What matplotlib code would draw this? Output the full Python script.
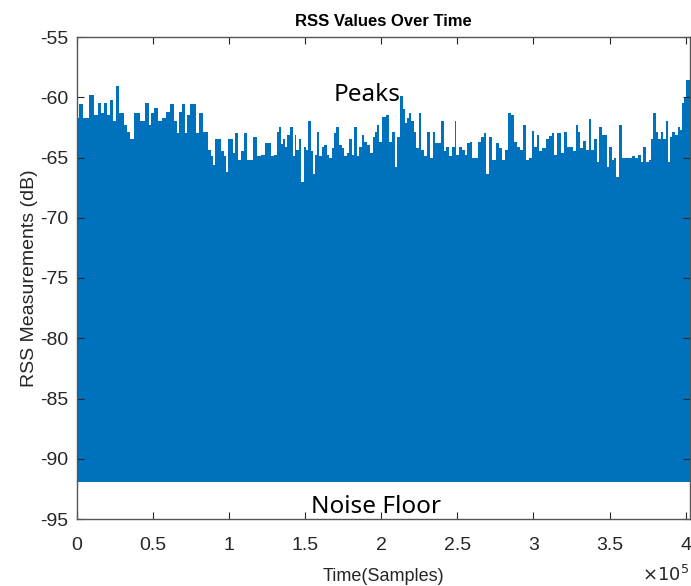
import matplotlib
matplotlib.use('Agg')
import matplotlib.pyplot as plt
from matplotlib.ticker import FixedLocator, FuncFormatter

plt.rcParams['axes.unicode_minus'] = False

# upper envelope of the RSS trace
# time in samples, rss in dB, same row layout in both lists
time_samples = [
    0, 2600, 5900, 10500, 12400, 15100, 17000, 19000, 20900, 22900,
    24200, 26800, 28800, 30100, 32100, 34000, 35400, 37300, 38000, 40600,
    43200, 46500, 48400, 49800, 51700, 55000, 57000, 60200, 62800, 64800,
    66800,
    68100, 70700, 72000, 73300, 75900, 77900, 79200, 81800, 83800, 85100,
    87100, 89000, 90300, 91700, 93600, 95600, 97500, 98900, 100200, 102100,
    103400, 104800, 106700, 108700, 110600, 112600, 114600, 117200, 119800, 122400,
    124400, 126400, 128300, 130300, 132200,
    133600, 134200, 136200, 137500, 139400, 141400, 142700, 144000, 144700, 146700,
    148600, 149900, 151200, 153200, 154500, 155800, 157100, 158400, 160400, 161700,
    163700, 165000, 166900, 168300, 169600, 171500, 173500, 174800, 176800, 178100,
    180000, 181300, 183300, 184600, 186600, 187900, 189900, 191200, 193800, 195100,
    196400, 197700, 199700,
    201600, 204300, 205600, 208200, 209500, 210800, 213400, 214700, 216100, 217400,
    218700, 220600, 221900, 223900, 225200, 227200, 229100, 231100, 233100, 234400,
    236300, 238300, 240300, 241600, 243500, 245500, 247500, 248800, 250100, 252100,
    254000, 256000, 257300, 259300, 260600, 263200, 264500, 266500,
    268400, 269700, 271700, 274300, 276300, 278200, 280900, 282200, 284100, 286100,
    288100, 290000, 292000, 294000, 295900, 297900, 299900, 301200, 303100, 304400,
    307100, 309000, 311000, 312900, 314300, 316900, 318800, 320800, 322800, 324700,
    327400, 328700, 330000, 331300, 333200,
    335200, 337200, 338500, 341100, 342400, 343700, 345700, 347600, 349000, 350900,
    352200, 354200, 354800, 357500, 358800, 361400, 364000, 366000, 367900, 369900,
    371200, 373200, 374500, 377100, 377700, 379700, 381000, 383000, 384300, 386300,
    387600, 389500, 390200, 392200, 394100, 395400, 396800, 398100, 400000, 400600,
    402500,
]
rss_peak = [
    -61.7, -60.6, -61.7, -59.8, -61.5, -60.5, -61.3, -60.5, -61.5, -60.2,
    -62.0, -59.1, -61.3, -61.3, -62.3, -62.9, -63.5, -63.5, -61.3, -61.3,
    -62.0, -60.5, -62.3, -61.3, -60.9, -62.0, -61.7, -61.2, -60.6, -62.0,
    -63.0,
    -61.2, -60.6, -63.0, -61.5, -60.6, -60.6, -63.0, -61.3, -62.9, -62.9,
    -64.4, -64.9, -65.6, -63.5, -63.5, -64.5, -64.9, -66.2, -63.5, -63.5,
    -64.6, -63.0, -65.2, -64.5, -63.0, -65.2, -65.2, -63.3, -64.9, -64.8,
    -63.8, -63.8, -64.9, -64.8, -62.9,
    -62.5, -63.9, -63.5, -64.1, -63.1, -62.5, -64.9, -63.1, -64.4, -63.5,
    -67.0, -64.1, -64.4, -62.0, -64.5, -66.4, -64.8, -62.9, -64.9, -64.1,
    -64.0, -64.8, -65.0, -64.2, -63.0, -62.5, -64.0, -64.2, -64.9, -64.6,
    -63.5, -64.8, -62.5, -64.9, -64.1, -63.1, -63.7, -64.0, -64.6, -63.3,
    -62.9, -62.3, -63.7,
    -61.6, -61.5, -63.7, -62.9, -65.8, -63.3, -59.9, -61.0, -62.1, -61.7,
    -61.3, -62.0, -62.9, -64.2, -61.3, -64.4, -64.9, -62.9, -65.0, -62.9,
    -63.8, -63.8, -62.0, -64.5, -64.1, -64.9, -64.1, -62.0, -64.8, -64.1,
    -64.4, -64.8, -63.8, -63.7, -65.0, -65.0, -63.7, -63.3,
    -63.0, -66.4, -63.3, -65.2, -63.8, -64.2, -65.2, -64.4, -61.3, -61.5,
    -63.7, -64.1, -64.4, -62.3, -65.2, -65.0, -62.8, -64.1, -63.1, -64.5,
    -64.2, -63.5, -63.2, -63.0, -64.8, -63.0, -64.6, -62.9, -64.1, -64.1,
    -64.5, -62.3, -62.9, -64.2, -63.6,
    -64.4, -61.8, -64.4, -63.5, -65.4, -62.5, -63.1, -63.1, -65.8, -64.1,
    -65.2, -65.0, -66.6, -62.3, -65.0, -65.0, -65.0, -64.9, -65.0, -64.8,
    -65.4, -64.1, -65.4, -65.2, -63.5, -61.3, -62.9, -63.5, -62.9, -63.5,
    -62.0, -65.4, -63.3, -62.9, -63.1, -62.5, -62.7, -60.5, -60.0, -58.6,
    -58.6,
]
noise_floor = -91.9

y_ticks = [-95, -90, -85, -80, -75, -70, -65, -60, -55]
x_ticks = [0, 50000, 100000, 150000, 200000, 250000, 300000, 350000, 400000]

blue = '#0072BD'
axis_col = '#262626'
sans = ['Liberation Sans', 'DejaVu Sans']

fig = plt.figure(figsize=(6.91, 5.86), dpi=100)
ax = fig.add_axes([76.7 / 691, 67 / 586, 612.8 / 691, 482 / 586])

ax.fill_between(time_samples, noise_floor, rss_peak, step='mid',
                color=blue, linewidth=0)

ax.set_xlim(0, 402500)
ax.set_ylim(-95, -55)
ax.xaxis.set_major_locator(FixedLocator(x_ticks))
ax.xaxis.set_major_formatter(FuncFormatter(lambda v, p: '%g' % (v / 1e5)))
ax.set_yticks(y_ticks)

for lab in ax.get_xticklabels() + ax.get_yticklabels():
    lab.set_fontfamily(sans)
    lab.set_fontsize(14)
ax.tick_params(direction='in', length=5, width=0.8, top=True, right=True,
               colors=axis_col, labelcolor=axis_col)
ax.tick_params(axis='x', pad=13)
ax.tick_params(axis='y', pad=6)
for sp in ax.spines.values():
    sp.set_color('#555555')
    sp.set_linewidth(1.0)

ax.set_title('RSS Values Over Time', fontsize=12, fontweight='bold',
             family=sans, pad=8, color='#000000')
ax.set_xlabel('Time(Samples)', fontsize=13, color=axis_col,
              family=sans, labelpad=10)
ax.set_ylabel('RSS Measurements (dB)', fontsize=14, color=axis_col,
              family=sans, labelpad=1.5)
ax.text(0.999, -0.128, r'$\times10^5$', transform=ax.transAxes, ha='right',
        va='baseline', fontsize=13, color=axis_col)

ax.text(190500, -60.35, 'Peaks', ha='center', va='baseline',
        fontsize=17.5, family='Noto Sans', color='black')
ax.text(196800, -94.5, 'Noise Floor', ha='center', va='baseline',
        fontsize=17.5, family='Noto Sans', color='black')

fig.savefig('out.png', dpi=100, facecolor='white')
